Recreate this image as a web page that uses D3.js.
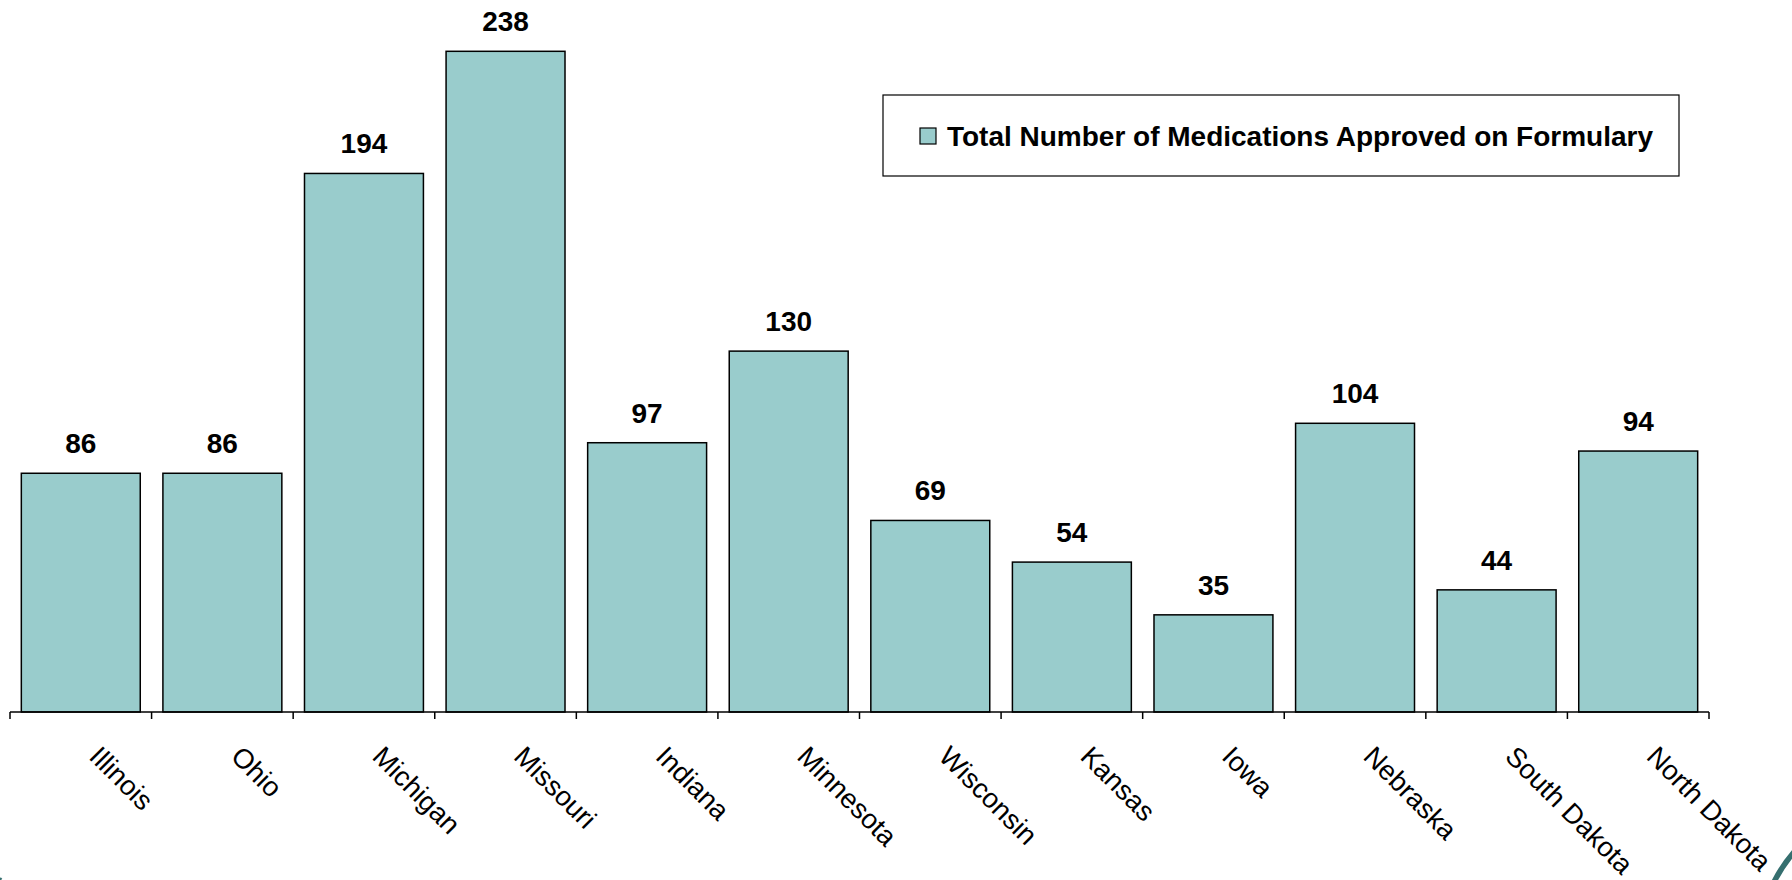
<!DOCTYPE html>
<html>
<head>
<meta charset="utf-8">
<script src="https://cdn.jsdelivr.net/npm/d3@7"></script>
<style>
  html, body { margin: 0; padding: 0; background: #ffffff; }
  svg { display: block; font-family: "Liberation Sans", Arial, sans-serif; }
</style>
</head>
<body>
<svg id="chart" width="1792" height="880"></svg>
<script>
const states = ["Illinois", "Ohio", "Michigan", "Missouri", "Indiana", "Minnesota",
                "Wisconsin", "Kansas", "Iowa", "Nebraska", "South Dakota", "North Dakota"];
const medications = [86, 86, 194, 238, 97, 130, 69, 54, 35, 104, 44, 94];
const seriesName = "Total Number of Medications Approved on Formulary";
const yDomain = [0, 250];

const svg = d3.select("#chart");
const axisY = 712;

const x = d3.scaleBand()
  .domain(states)
  .range([10, 1709])
  .paddingInner(0.16)
  .paddingOuter(0.08);

const y = d3.scaleLinear()
  .domain(yDomain)
  .range([axisY, axisY - 250 * 2.776]);

const data = states.map((s, i) => ({ state: s, value: medications[i] }));

// bars
svg.append("g").selectAll("rect")
  .data(data)
  .join("rect")
  .attr("x", d => x(d.state))
  .attr("y", d => y(d.value))
  .attr("width", x.bandwidth())
  .attr("height", d => y(0) - y(d.value))
  .attr("fill", "#99cccc")
  .attr("stroke", "#000")
  .attr("stroke-width", 1.5);

// value labels
svg.append("g").selectAll("text")
  .data(data)
  .join("text")
  .attr("x", d => x(d.state) + x.bandwidth() / 2)
  .attr("y", d => y(d.value) - 20)
  .attr("text-anchor", "middle")
  .attr("font-size", 28)
  .attr("font-weight", "bold")
  .attr("fill", "#000")
  .text(d => d.value);

// x axis
const axis = d3.axisBottom(x).tickSize(0).tickFormat("");
const gAxis = svg.append("g").attr("transform", `translate(0,${axisY})`).call(axis);
gAxis.select(".domain").attr("stroke", "#000").attr("stroke-width", 1.5).attr("d", `M${x.range()[0]},0H${x.range()[1]}`);
gAxis.selectAll(".tick").remove();

// tick marks at band boundaries
const boundaries = states.map(s => x(s) - x.step() * x.paddingInner() / 2);
boundaries.push(x.range()[1]);
gAxis.selectAll("line.bd")
  .data(boundaries)
  .join("line")
  .attr("class", "bd")
  .attr("x1", d => d).attr("x2", d => d)
  .attr("y1", 0).attr("y2", 7)
  .attr("stroke", "#000")
  .attr("stroke-width", 1.5);

// category labels
svg.append("g").selectAll("text")
  .data(states)
  .join("text")
  .attr("transform", d => `translate(${x(d) + x.bandwidth() / 2 + 7},${axisY + 46}) rotate(45)`)
  .attr("text-anchor", "start")
  .attr("font-size", 27.5)
  .attr("fill", "#000")
  .text(d => d);

// legend
const lg = svg.append("g");
lg.append("rect")
  .attr("x", 883).attr("y", 95)
  .attr("width", 796).attr("height", 81)
  .attr("fill", "#fff")
  .attr("stroke", "#000")
  .attr("stroke-width", 1.2);
lg.append("rect")
  .attr("x", 920).attr("y", 128)
  .attr("width", 16).attr("height", 16)
  .attr("fill", "#99cccc")
  .attr("stroke", "#000")
  .attr("stroke-width", 1.2);
lg.append("text")
  .attr("x", 947).attr("y", 146)
  .attr("font-size", 28)
  .attr("font-weight", "bold")
  .attr("fill", "#000")
  .attr("textLength", 706)
  .attr("lengthAdjust", "spacingAndGlyphs")
  .text(seriesName);

// decorative template arcs
svg.append("path")
  .attr("d", "M1774,882 Q1782,866 1794,852")
  .attr("fill", "none")
  .attr("stroke", "#356f6f")
  .attr("stroke-width", 5.5);
svg.append("path")
  .attr("d", "M-1,881 L1.5,878")
  .attr("fill", "none")
  .attr("stroke", "#356f6f")
  .attr("stroke-width", 2);
</script>
</body>
</html>
